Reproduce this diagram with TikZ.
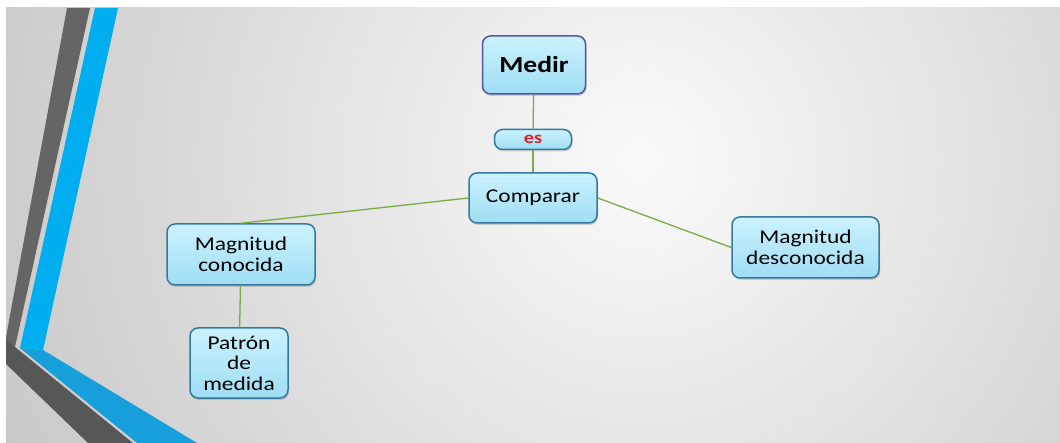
\documentclass[tikz,border=0pt]{standalone}
\usepackage{fontspec}
\setmainfont{Carlito}[FakeStretch=1.2]
\usepackage{tikz}
\usetikzlibrary{positioning, shadows}
\usepackage{xcolor}
\definecolor{boxborder}{HTML}{33799E}
\definecolor{boxtop}{HTML}{CBF2FD}
\definecolor{boxbottom}{HTML}{9FDDF4}
\definecolor{linkgreen}{HTML}{77AD42}
\definecolor{bandgray}{HTML}{656565}
\definecolor{bandgraydark}{HTML}{575757}
\definecolor{bandblue}{HTML}{00AEEF}
\definecolor{bandbluedark}{HTML}{169FDB}
\definecolor{medirborder}{HTML}{5A54A0}
\definecolor{esred}{HTML}{E01F2A}

\begin{document}
\begin{tikzpicture}[x=1pt,y=-1pt,
    concept/.style={rectangle, rounded corners=8pt, draw=boxborder, line width=1.5pt,
      top color=boxtop, bottom color=boxbottom, align=center,
      font=\fontsize{19.5}{20.5}\selectfont, inner sep=2pt,
      drop shadow={shadow xshift=1pt, shadow yshift=-2pt, opacity=0.3}},
    link/.style={draw=linkgreen, line width=1.3pt}]
    \useasboundingbox (0,0) rectangle (1060,443);
    \fill[white] (0,0) rectangle (1060,443);
    \begin{scope}
      \clip (6,8) rectangle (1060,443);
      \shade[inner color=white!96!gray, outer color=gray!44!white] (640,160) circle (720);
    \end{scope}
    \fill[bandgray] (67,8) -- (90,8) -- (15,347) -- (6,352) -- (6,337) -- cycle;
    \fill[bandgraydark] (6,340) -- (15,347) -- (133,443) -- (88,443) -- (6,364) -- cycle;
    \fill[bandblue] (95,8) -- (118,8) -- (43,350) -- (20,348) -- cycle;
    \fill[bandbluedark] (20,348) -- (43,350) -- (197,443) -- (137,443) -- cycle;

    \node[concept, draw=medirborder, minimum width=103pt, minimum height=58pt,
      font=\fontsize{23}{24}\selectfont\bfseries] (medir) at (534,65) {Medir};
    \node[concept, minimum width=77pt, minimum height=20pt, inner sep=0pt,
      font=\fontsize{17}{17}\selectfont\bfseries, text=esred] (es) at (533,139.5) {es};
    \node[concept, minimum width=128pt, minimum height=50pt] (comparar) at (533,198) {Comparar};
    \node[concept, minimum width=148pt, minimum height=61pt] (conocida) at (241,254.5) {Magnitud\\conocida};
    \node[concept, minimum width=98pt, minimum height=70pt] (patron) at (239,363) {Patrón\\de\\medida};
    \node[concept, minimum width=147pt, minimum height=61pt] (desconocida) at (805.5,247.5) {Magnitud\\desconocida};

    \path[link]
    (medir) edge node {} (es)
    (es) edge node {} (comparar)
    (comparar.west) edge node {} (conocida.north)
    (comparar.east) edge node {} (desconocida.west)
    (conocida) edge node {} (patron);
\end{tikzpicture}
\end{document}
